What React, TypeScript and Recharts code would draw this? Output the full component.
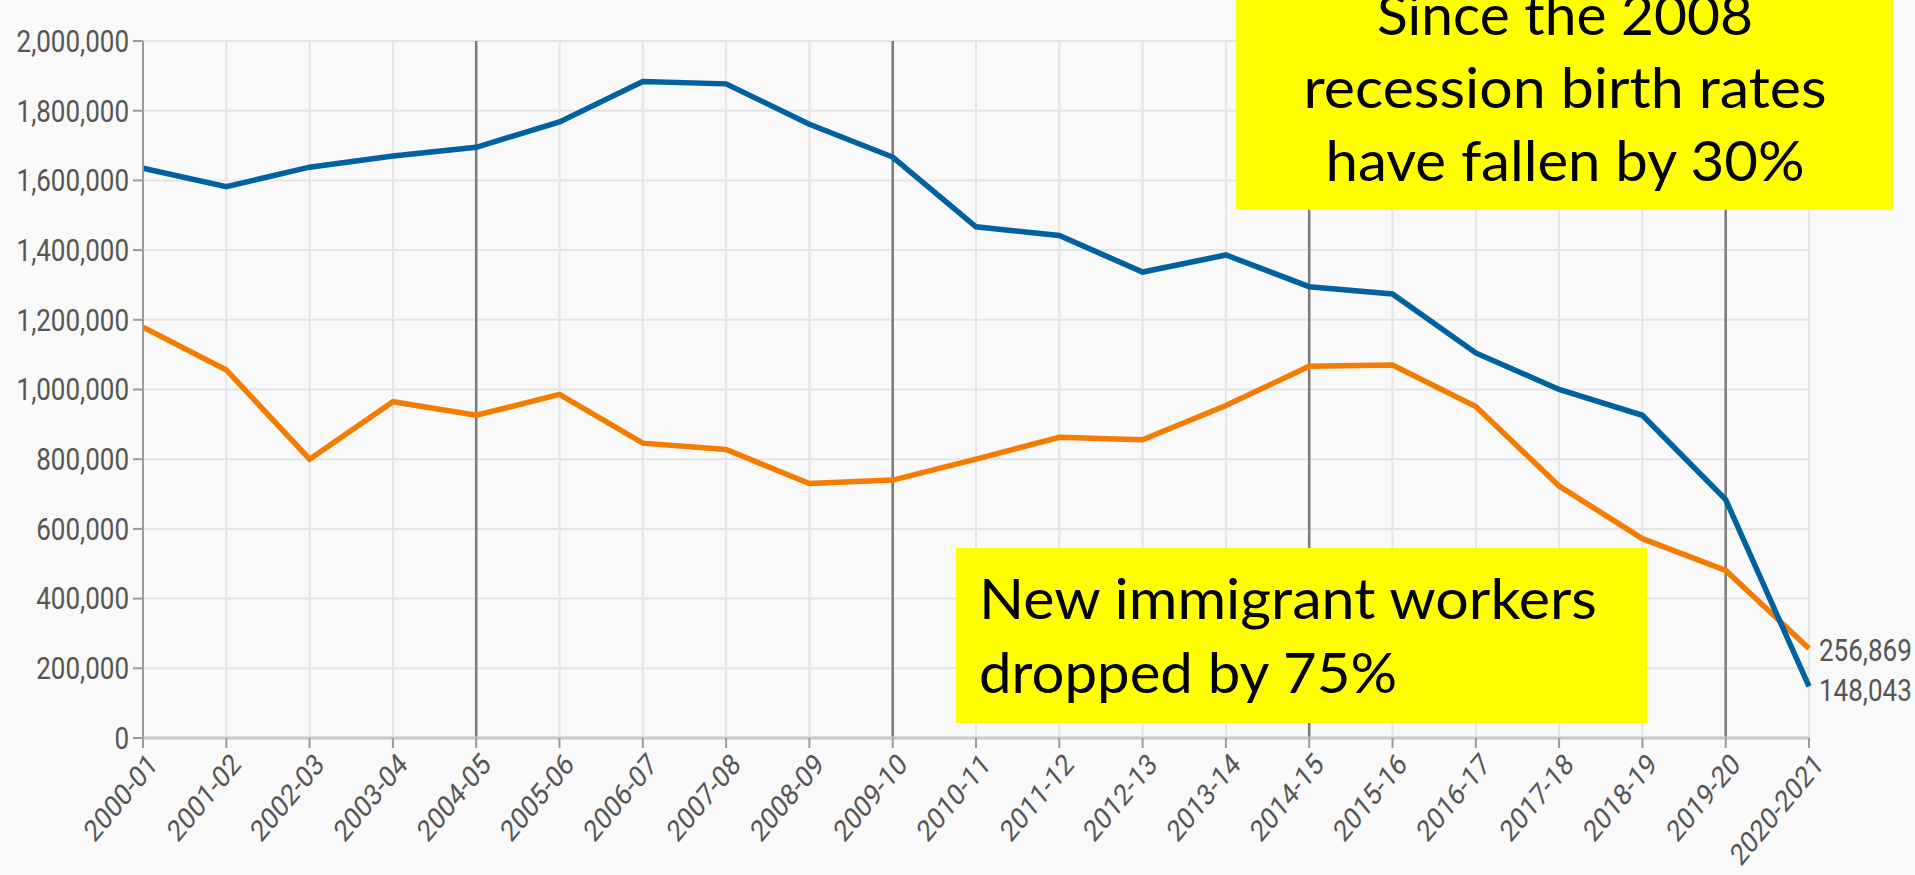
import React from 'react';
import { LineChart, Line, XAxis, YAxis, CartesianGrid, ReferenceLine, LabelList } from 'recharts';

const seasons = [
  '2000-01', '2001-02', '2002-03', '2003-04', '2004-05', '2005-06', '2006-07',
  '2007-08', '2008-09', '2009-10', '2010-11', '2011-12', '2012-13', '2013-14',
  '2014-15', '2015-16', '2016-17', '2017-18', '2018-19', '2019-20', '2020-2021',
];

// blue line
const births = [
  1635000, 1582000, 1638000, 1670000, 1695000, 1768000, 1884000,
  1877000, 1761000, 1667000, 1467000, 1442000, 1337000, 1386000,
  1295000, 1274000, 1105000, 1000000, 926000, 684000, 148043,
];

// orange line
const immigrantWorkers = [
  1179000, 1056000, 800000, 965000, 926000, 986000, 846000,
  828000, 730000, 740000, 800000, 863000, 856000, 954000,
  1067000, 1070000, 951000, 723000, 572000, 481000, 256869,
];

const yTicks = [0, 200000, 400000, 600000, 800000, 1000000, 1200000, 1400000, 1600000, 1800000, 2000000];
const fiveYearMarks = ['2004-05', '2009-10', '2014-15', '2019-20'];

const recessionNote = ['Since the 2008', 'recession birth rates', 'have fallen by 30%'];
const workersNote = ['New immigrant workers', 'dropped by 75%'];

const data = seasons.map((season, i) => ({
  season,
  births: births[i],
  immigrantWorkers: immigrantWorkers[i],
}));

const BLUE = '#0061a0';
const ORANGE = '#f57c00';
const TICK_FONT = 'Roboto, sans-serif';
const NOTE_FONT = 'Lato, sans-serif';

// the source screenshot is stretched a little vertically, so the tick text is too
const SeasonTick = ({ x, y, payload }: any) => (
  <g transform={`translate(${x + 16},${y + 16}) scale(1,1.2) rotate(-45)`}>
    <text x={0} y={0} textAnchor="end" fill="#555" fontSize={25} fontFamily={TICK_FONT}>
      {payload.value}
    </text>
  </g>
);

const ValueTick = ({ x, y, payload }: any) => (
  <g transform={`translate(${x},${y}) scale(1,1.2)`}>
    <text x={0} y={0} textAnchor="end" dominantBaseline="central" fill="#555" fontSize={26} fontFamily={TICK_FONT}>
      {Number(payload.value).toLocaleString('en-US')}
    </text>
  </g>
);

const endLabel = (dy: number) => (props: any) => {
  const { x, y, value, index } = props;
  if (index !== seasons.length - 1) return null;
  return (
    <g transform={`translate(${x + 10},${y + dy}) scale(1,1.2)`}>
      <text x={0} y={0} dominantBaseline="central" fill="#555" fontSize={26} fontFamily={TICK_FONT}>
        {Number(value).toLocaleString('en-US')}
      </text>
    </g>
  );
};

// widths of the Calibri text in the original, used to hold line lengths
const recessionWidths = [376, 523, 479];
const workersWidths = [618, 418];

export default function App() {
  return (
    <div style={{ position: 'absolute', left: 0, top: 0, width: 1915, height: 875, background: '#f9f9f9' }}>
      <LineChart
        width={1915}
        height={875}
        data={data}
        margin={{ top: 41, right: 106, bottom: 0, left: 0 }}
      >
        <CartesianGrid stroke="#e4e4e4" strokeWidth={2} />
        <XAxis
          dataKey="season"
          interval={0}
          height={137}
          tick={<SeasonTick />}
          tickSize={10}
          tickLine={{ stroke: '#9a9a9a', strokeWidth: 2 }}
          axisLine={{ stroke: '#c8c8c8', strokeWidth: 3 }}
        />
        <YAxis
          domain={[0, 2000000]}
          ticks={yTicks}
          width={143}
          tickSize={10}
          tickMargin={4}
          tick={<ValueTick />}
          tickLine={{ stroke: '#9a9a9a', strokeWidth: 2 }}
          axisLine={{ stroke: '#9a9a9a', strokeWidth: 2 }}
        />
        {fiveYearMarks.map((m) => (
          <ReferenceLine key={m} x={m} stroke="#7a7a7a" strokeWidth={2.5} />
        ))}
        <Line
          type="linear"
          dataKey="immigrantWorkers"
          stroke={ORANGE}
          strokeWidth={5.5}
          dot={false}
          isAnimationActive={false}
        >
          <LabelList dataKey="immigrantWorkers" content={endLabel(2)} />
        </Line>
        <Line
          type="linear"
          dataKey="births"
          stroke={BLUE}
          strokeWidth={5.5}
          dot={false}
          isAnimationActive={false}
        >
          <LabelList dataKey="births" content={endLabel(4)} />
        </Line>
      </LineChart>

      <svg
        width={1915}
        height={875}
        style={{ position: 'absolute', left: 0, top: 0, pointerEvents: 'none' }}
      >
        <rect x={1236} y={0} width={657} height={210} fill="#ffff00" />
        {recessionNote.map((line, i) => (
          <text
            key={line}
            x={1565}
            y={35 + i * 73}
            textAnchor="middle"
            fontSize={57}
            fontFamily={NOTE_FONT}
            fill="#000"
            textLength={recessionWidths[i]}
            lengthAdjust="spacingAndGlyphs"
          >
            {line}
          </text>
        ))}
        <rect x={956} y={548} width={691} height={175} fill="#ffff00" />
        {workersNote.map((line, i) => (
          <text
            key={line}
            x={979}
            y={619 + i * 74}
            fontSize={57}
            fontFamily={NOTE_FONT}
            fill="#000"
            textLength={workersWidths[i]}
            lengthAdjust="spacingAndGlyphs"
          >
            {line}
          </text>
        ))}
      </svg>
    </div>
  );
}
